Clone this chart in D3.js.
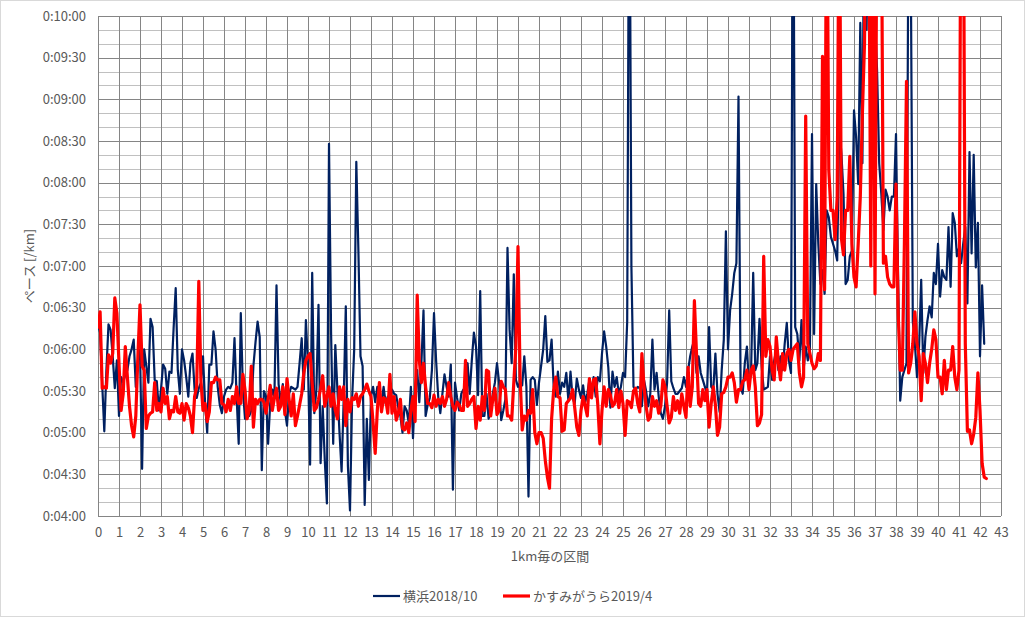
<!DOCTYPE html>
<html><head><meta charset="utf-8">
<script src="https://cdn.jsdelivr.net/npm/d3@7"></script>
<style>
body{margin:0;background:#fff;}
svg{display:block;}
text{font-family:"Noto Sans CJK JP","Noto Sans",sans-serif;}
</style>
</head><body>
<svg id="chart" width="1025" height="617"></svg>
<script>
// ---- data (pace in seconds per km, one value every 0.1 km) ----
const seriesNames = ["横浜2018/10", "かすみがうら2019/4"];
const stepKm = 0.1;
const yokohama = [
378,372,335,301,345,378,374,355,332,352,
312,340,336,342,345,355,360,367,333,352,
360,274,360,348,336,382,376,338,337,316,
331,349,346,328,344,343,375,404,345,328,
360,352,340,326,350,357,331,325,332,336,
355,321,300,349,349,373,360,333,320,314,
326,331,333,332,336,368,326,292,386,331,
310,319,312,316,348,365,380,369,273,330,
326,292,321,331,326,406,335,321,335,316,
305,328,333,332,331,333,350,368,331,381,
348,277,415,314,331,392,278,319,280,249,
508,371,292,363,331,300,272,324,391,276,
244,324,360,495,431,355,348,248,310,266,
326,333,322,333,326,321,333,321,326,324,
331,328,327,318,312,300,319,316,307,333,
296,333,345,322,350,388,312,320,325,345,
386,352,326,314,328,342,333,326,349,259,
336,325,316,328,331,333,350,328,352,372,
362,327,402,312,312,328,310,316,328,336,
350,336,309,316,324,433,374,350,414,338,
333,336,334,355,333,254,338,340,338,320,
336,348,360,384,351,352,367,333,326,344,
328,336,333,343,323,344,325,321,339,331,
325,334,322,328,338,330,340,326,340,337,
357,373,362,347,318,344,333,340,328,333,
343,340,380,760,420,333,331,333,332,319,
338,330,319,328,367,331,343,326,314,310,
319,336,388,337,332,328,328,330,332,340,
333,345,355,362,367,343,355,343,338,333,
328,376,333,331,357,328,315,345,367,445,
360,388,400,415,422,542,333,328,350,362,
333,345,415,345,350,382,348,331,332,333,
355,338,352,360,345,355,345,364,379,352,
343,760,376,371,352,381,345,362,352,360,
515,371,479,436,407,417,400,460,455,441,
436,431,424,520,501,472,407,410,427,431,
532,513,479,595,494,720,590,720,590,720,
600,560,494,472,446,475,470,460,470,470,
515,412,323,340,345,350,700,650,380,364,
340,362,410,343,369,381,391,383,415,407,
436,398,417,412,410,448,405,458,451,427,
433,422,436,448,393,502,429,500,419,451,
355,406,364
];
const kasumigaura = [
376,387,332,333,332,356,350,357,397,386,
350,316,328,362,340,319,305,297,312,355,
392,348,345,303,312,314,315,336,316,321,
315,332,321,326,310,316,315,326,315,314,
321,309,321,318,312,300,326,333,409,338,
316,321,308,315,336,336,340,338,338,321,
320,315,324,316,326,321,333,321,321,342,
331,310,316,348,304,324,321,324,324,322,
314,324,334,316,325,332,316,319,333,313,
339,324,312,328,305,312,320,328,343,352,
355,357,335,316,318,324,332,341,319,326,
333,319,328,316,310,333,324,333,305,324,
315,325,324,328,319,326,328,331,335,330,
326,307,285,316,336,315,325,324,314,342,
314,326,309,314,324,303,302,307,300,316,
326,308,399,352,336,350,333,321,321,318,
327,319,324,321,326,319,324,336,326,319,
316,322,320,316,316,352,319,321,324,326,
303,319,309,326,316,345,344,312,324,332,
313,316,337,333,331,312,312,309,336,362,
434,340,302,312,309,316,314,331,300,292,
300,300,296,280,268,260,310,331,340,326,
325,301,302,321,323,325,331,318,304,298,
316,326,319,312,339,325,338,339,320,292,
316,333,319,331,327,319,321,331,318,330,
321,298,323,322,318,330,332,321,315,357,
333,319,309,311,326,319,323,314,319,338,
333,319,307,311,326,316,323,314,328,319,
311,347,319,333,395,357,321,319,331,323,
331,304,321,333,320,298,304,328,329,333,
340,340,343,336,322,331,331,337,338,345,
331,345,348,333,305,307,313,427,355,367,
362,345,338,369,350,338,357,345,357,360,
352,360,362,364,343,333,340,528,364,357,
350,346,348,357,352,571,403,720,489,460,
460,439,470,720,440,428,460,460,499,436,
412,405,436,470,530,580,760,700,420,720,
400,720,760,700,422,427,412,407,405,405,
479,388,345,345,436,553,343,350,364,387,
364,355,323,357,350,336,350,360,374,367,
340,340,328,352,331,345,345,362,340,331,
345,760,740,364,301,302,292,299,311,343,
316,278,268,267
];
const xTickValues = d3.range(0, 44, 1);          // 0 … 43 km
const yTickValues = d3.range(240, 601, 30);      // 4:00 … 10:00
const seriesColors = ["#002060", "#ff0000"];
const seriesWidths = [2.2, 3.2];

// ---- layout ----
const W = 1025, H = 617;
const m = {left: 98, right: 1001, top: 16, bottom: 516};
const svg = d3.select("#chart");
svg.append("rect").attr("x",0.5).attr("y",0.5).attr("width",W-1).attr("height",H-1)
   .attr("fill","#fff").attr("stroke","#d9d9d9");

const x = d3.scaleLinear().domain([0, 43]).range([m.left, m.right]);
const y = d3.scaleLinear().domain([240, 600]).range([m.bottom, m.top]);

const fmt = s => { const mm = Math.floor(s/60), ss = s%60;
  return "0:" + String(mm).padStart(2,"0") + ":" + String(ss).padStart(2,"0"); };

// minor horizontal grid (10 s)
const minor = d3.range(240, 601, 10).filter(v => v % 30 !== 0);
svg.append("g").selectAll("line").data(minor).join("line")
  .attr("x1", m.left).attr("x2", m.right)
  .attr("y1", d => Math.round(y(d))+0.5).attr("y2", d => Math.round(y(d))+0.5)
  .attr("stroke", "#c0c0c0").attr("stroke-width", 1);

// major grid
svg.append("g").selectAll("line").data(yTickValues).join("line")
  .attr("x1", m.left).attr("x2", m.right)
  .attr("y1", d => Math.round(y(d))+0.5).attr("y2", d => Math.round(y(d))+0.5)
  .attr("stroke", "#858585").attr("stroke-width", 1);
svg.append("g").selectAll("line").data(xTickValues).join("line")
  .attr("y1", m.top).attr("y2", m.bottom)
  .attr("x1", d => Math.round(x(d))+0.5).attr("x2", d => Math.round(x(d))+0.5)
  .attr("stroke", "#858585").attr("stroke-width", 1);

// axes labels via d3 axes
const yAxis = d3.axisLeft(y).tickValues(yTickValues).tickFormat(fmt).tickSize(0).tickPadding(12);
const gy = svg.append("g").attr("transform", `translate(${m.left},0)`).call(yAxis);
gy.select(".domain").remove();
gy.selectAll("text").attr("fill","#595959").attr("font-size","13px")
  .style("font-family","'Noto Sans CJK JP','Noto Sans',sans-serif");

const xAxis = d3.axisBottom(x).tickValues(xTickValues).tickFormat(d3.format("d")).tickSize(0).tickPadding(12);
const gx = svg.append("g").attr("transform", `translate(0,${m.bottom})`).call(xAxis);
gx.select(".domain").remove();
gx.selectAll("text").attr("fill","#595959").attr("font-size","13px")
  .style("font-family","'Noto Sans CJK JP','Noto Sans',sans-serif");

// axis titles
svg.append("text").attr("x", 550).attr("y", 561)
  .attr("text-anchor","middle").attr("fill","#595959").attr("font-size","13px").text("1km毎の区間");
svg.append("text").attr("transform", `translate(34,${(m.top+m.bottom)/2}) rotate(-90)`)
  .attr("text-anchor","middle").attr("fill","#595959").attr("font-size","13px").text("ペース [/km]");

// clip
svg.append("clipPath").attr("id","plotClip").append("rect")
  .attr("x", m.left).attr("y", m.top).attr("width", m.right-m.left).attr("height", m.bottom-m.top);

const line = d3.line().x((d,i) => x(i*stepKm)).y(d => y(d));
const plot = svg.append("g").attr("clip-path","url(#plotClip)");
[yokohama, kasumigaura].forEach((s, k) => {
  plot.append("path").datum(s).attr("d", line).attr("fill","none")
    .attr("stroke", seriesColors[k]).attr("stroke-width", seriesWidths[k])
    .attr("stroke-linejoin","round").attr("stroke-linecap","round");
});

// legend
const legend = [{x: 373, tx: 403}, {x: 503, tx: 533}];
legend.forEach((L, k) => {
  svg.append("line").attr("x1", L.x).attr("x2", L.x+27).attr("y1", 596).attr("y2", 596)
    .attr("stroke", seriesColors[k]).attr("stroke-width", seriesWidths[k]);
  svg.append("text").attr("x", L.tx).attr("y", 600.5).attr("fill","#595959")
    .attr("font-size","13px").text(seriesNames[k]);
});
</script>
</body></html>
